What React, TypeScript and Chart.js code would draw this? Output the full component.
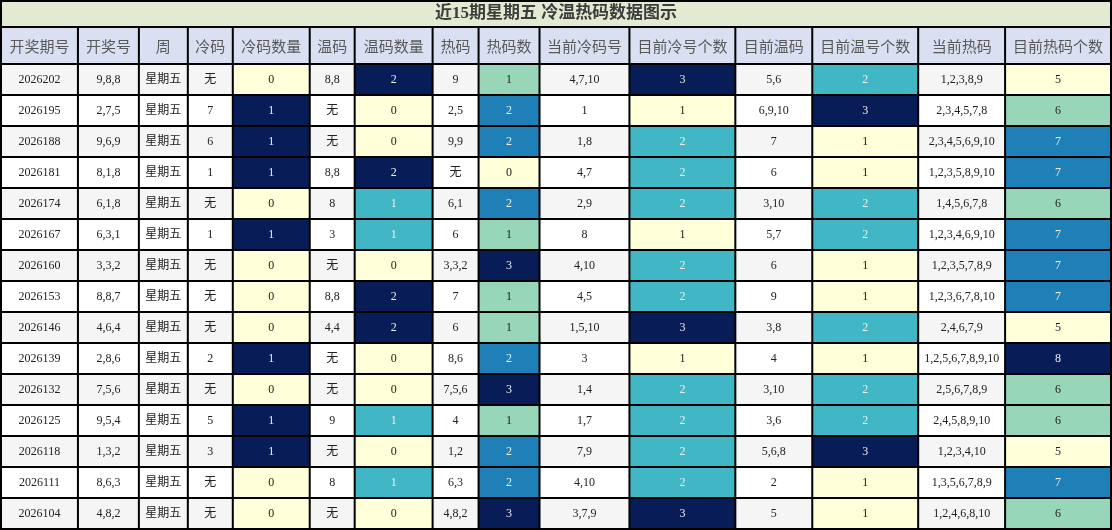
import React, { useEffect, useRef } from 'react';
import { Chart, registerables } from 'chart.js';

Chart.register(...registerables);

// ---- data ----
const titleText = '近15期星期五 冷温热码数据图示';

const headers = [
  '开奖期号', '开奖号', '周', '冷码', '冷码数量', '温码', '温码数量', '热码', '热码数',
  '当前冷码号', '目前冷号个数', '目前温码', '目前温号个数', '当前热码', '目前热码个数',
];

const periods = [
  '2026202', '2026195', '2026188', '2026181', '2026174', '2026167', '2026160', '2026153',
  '2026146', '2026139', '2026132', '2026125', '2026118', '2026111', '2026104',
];
const drawNumbers = [
  '9,8,8', '2,7,5', '9,6,9', '8,1,8', '6,1,8', '6,3,1', '3,3,2', '8,8,7',
  '4,6,4', '2,8,6', '7,5,6', '9,5,4', '1,3,2', '8,6,3', '4,8,2',
];
const weekdays = [
  '星期五', '星期五', '星期五', '星期五', '星期五', '星期五', '星期五', '星期五',
  '星期五', '星期五', '星期五', '星期五', '星期五', '星期五', '星期五',
];
const coldNums = ['无', '7', '6', '1', '无', '1', '无', '无', '无', '2', '无', '5', '3', '无', '无'];
const coldCounts = [0, 1, 1, 1, 0, 1, 0, 0, 0, 1, 0, 1, 1, 0, 0];
const warmNums = ['8,8', '无', '无', '8,8', '8', '3', '无', '8,8', '4,4', '无', '无', '9', '无', '8', '无'];
const warmCounts = [2, 0, 0, 2, 1, 1, 0, 2, 2, 0, 0, 1, 0, 1, 0];
const hotNums = ['9', '2,5', '9,9', '无', '6,1', '6', '3,3,2', '7', '6', '8,6', '7,5,6', '4', '1,2', '6,3', '4,8,2'];
const hotCounts = [1, 2, 2, 0, 2, 1, 3, 1, 1, 2, 3, 1, 2, 2, 3];
const curColdNums = ['4,7,10', '1', '1,8', '4,7', '2,9', '8', '4,10', '4,5', '1,5,10', '3', '1,4', '1,7', '7,9', '4,10', '3,7,9'];
const curColdCounts = [3, 1, 2, 2, 2, 1, 2, 2, 3, 1, 2, 2, 2, 2, 3];
const curWarmNums = ['5,6', '6,9,10', '7', '6', '3,10', '5,7', '6', '9', '3,8', '4', '3,10', '3,6', '5,6,8', '2', '5'];
const curWarmCounts = [2, 3, 1, 1, 2, 2, 1, 1, 2, 1, 2, 2, 3, 1, 1];
const curHotNums = [
  '1,2,3,8,9', '2,3,4,5,7,8', '2,3,4,5,6,9,10', '1,2,3,5,8,9,10', '1,4,5,6,7,8',
  '1,2,3,4,6,9,10', '1,2,3,5,7,8,9', '1,2,3,6,7,8,10', '2,4,6,7,9', '1,2,5,6,7,8,9,10',
  '2,5,6,7,8,9', '2,4,5,8,9,10', '1,2,3,4,10', '1,3,5,6,7,8,9', '1,2,4,6,8,10',
];
const curHotCounts = [5, 6, 7, 7, 6, 7, 7, 7, 5, 8, 6, 6, 5, 7, 6];

const columnValues: (string | number)[][] = [
  periods, drawNumbers, weekdays, coldNums, coldCounts, warmNums, warmCounts, hotNums, hotCounts,
  curColdNums, curColdCounts, curWarmNums, curWarmCounts, curHotNums, curHotCounts,
];

// ---- layout / style ----
const colWidths = [77, 61, 49, 45, 77, 45, 78, 46, 61, 90, 106, 77, 106, 87, 106];
const TITLE_H = 27;
const HEADER_BOTTOM = 64;
const TITLE_BG = '#e2ebd1';
const HEADER_BG = '#dae0f1';
const ROW_ALT = '#f5f5f5';
const CELL_FONT = '12px "Liberation Serif", "Noto Sans CJK SC", serif';
const HEADER_FONT = '15px "Noto Sans CJK SC", sans-serif';

// YlGnBu
const stops = ['#ffffd9', '#edf8b1', '#c7e9b4', '#7fcdbb', '#41b6c4', '#1d91c0', '#225ea8', '#253494', '#081d58'];

const hexToRgb = (h: string) => [1, 3, 5].map((i) => parseInt(h.slice(i, i + 2), 16));

const ylGnBu = (t: number) => {
  const pos = Math.max(0, Math.min(1, t)) * (stops.length - 1);
  const i = Math.min(Math.floor(pos), stops.length - 2);
  const f = pos - i;
  const a = hexToRgb(stops[i]);
  const b = hexToRgb(stops[i + 1]);
  const c = a.map((v, k) => Math.round(v + (b[k] - v) * f));
  return `rgb(${c[0]},${c[1]},${c[2]})`;
};

const norm = (vals: (string | number)[], v: number) => {
  const nums = vals as number[];
  const lo = Math.min(...nums);
  const hi = Math.max(...nums);
  return hi === lo ? 0 : (v - lo) / (hi - lo);
};

const cellBg = (vals: (string | number)[], r: number) => {
  const v = vals[r];
  if (typeof v === 'number') return ylGnBu(norm(vals, v));
  return r % 2 === 0 ? ROW_ALT : '#ffffff';
};

const cellInk = (vals: (string | number)[], r: number) => {
  const v = vals[r];
  if (typeof v === 'number' && norm(vals, v) >= 0.5) return '#eeeeee';
  return '#222222';
};

const tablePlugin = {
  id: 'tableDecor',
  beforeDraw(chart: any) {
    const { ctx, width } = chart;
    ctx.save();
    ctx.fillStyle = TITLE_BG;
    ctx.fillRect(0, 0, width, TITLE_H);
    ctx.restore();
  },
  afterDatasetsDraw(chart: any) {
    const { ctx, chartArea, scales, width } = chart;
    const xs = scales.x;
    const bounds: number[] = [0];
    colWidths.forEach((w) => bounds.push(bounds[bounds.length - 1] + w));
    const px = bounds.map((b) => xs.getPixelForValue(b));

    ctx.save();
    // header row
    headers.forEach((h, c) => {
      ctx.fillStyle = HEADER_BG;
      ctx.fillRect(px[c], TITLE_H, px[c + 1] - px[c], chartArea.top - TITLE_H);
      ctx.fillStyle = '#595959';
      ctx.font = HEADER_FONT;
      ctx.textAlign = 'center';
      ctx.textBaseline = 'middle';
      ctx.fillText(h, (px[c] + px[c + 1]) / 2, (TITLE_H + chartArea.top) / 2 + 1);
    });

    // cell texts
    ctx.font = CELL_FONT;
    const rowEdges: number[] = [];
    columnValues.forEach((vals, c) => {
      const meta = chart.getDatasetMeta(c);
      meta.data.forEach((el: any, r: number) => {
        const p = el.getProps(['x', 'y', 'base', 'height'], true);
        if (c === 0) {
          rowEdges.push(p.y - p.height / 2);
          if (r === meta.data.length - 1) rowEdges.push(p.y + p.height / 2);
        }
        ctx.fillStyle = cellInk(vals, r);
        ctx.fillText(String(vals[r]), (p.x + p.base) / 2, p.y + 0.5);
      });
    });

    // grid lines
    ctx.strokeStyle = '#000000';
    ctx.lineWidth = 2;
    ctx.beginPath();
    [1, TITLE_H, ...rowEdges].forEach((y) => {
      ctx.moveTo(0, y);
      ctx.lineTo(width, y);
    });
    px.forEach((x) => {
      ctx.moveTo(x, TITLE_H);
      ctx.lineTo(x, chartArea.bottom);
    });
    ctx.moveTo(1, 0);
    ctx.lineTo(1, TITLE_H);
    ctx.moveTo(width - 1, 0);
    ctx.lineTo(width - 1, TITLE_H);
    ctx.stroke();
    ctx.restore();
  },
};

const HotColdTable: React.FC = () => {
  const canvasRef = useRef<HTMLCanvasElement>(null);
  const chartRef = useRef<Chart | null>(null);

  useEffect(() => {
    if (!canvasRef.current) return;
    const total = colWidths.reduce((a, b) => a + b, 0);

    chartRef.current = new Chart(canvasRef.current, {
      type: 'bar',
      data: {
        labels: periods,
        datasets: columnValues.map((vals, c) => ({
          label: headers[c],
          data: periods.map(() => colWidths[c]),
          backgroundColor: vals.map((_, r) => cellBg(vals, r)),
          borderWidth: 0,
          barPercentage: 1,
          categoryPercentage: 1,
        })),
      },
      options: {
        indexAxis: 'y',
        responsive: false,
        animation: false,
        layout: { padding: { top: 0, left: 1, right: 1, bottom: 1 } },
        scales: {
          x: { type: 'linear', stacked: true, min: 0, max: total, display: false },
          y: { stacked: true, display: false },
        },
        plugins: {
          legend: { display: false },
          tooltip: { enabled: false },
          title: {
            display: true,
            text: titleText,
            color: '#3c3c3c',
            font: { family: '"Liberation Serif", "Noto Sans CJK SC", serif', size: 17, weight: 'bold' },
            padding: { top: 3.5, bottom: HEADER_BOTTOM - 3.5 - 17 * 1.2 },
          },
        },
      },
      plugins: [tablePlugin],
    });

    return () => {
      chartRef.current?.destroy();
      chartRef.current = null;
    };
  }, []);

  return (
    <div style={{ position: 'absolute', left: 0, top: 0, width: 1112, height: 530, background: '#ffffff' }}>
      <canvas ref={canvasRef} width={1112} height={530}></canvas>
    </div>
  );
};

export default HotColdTable;
